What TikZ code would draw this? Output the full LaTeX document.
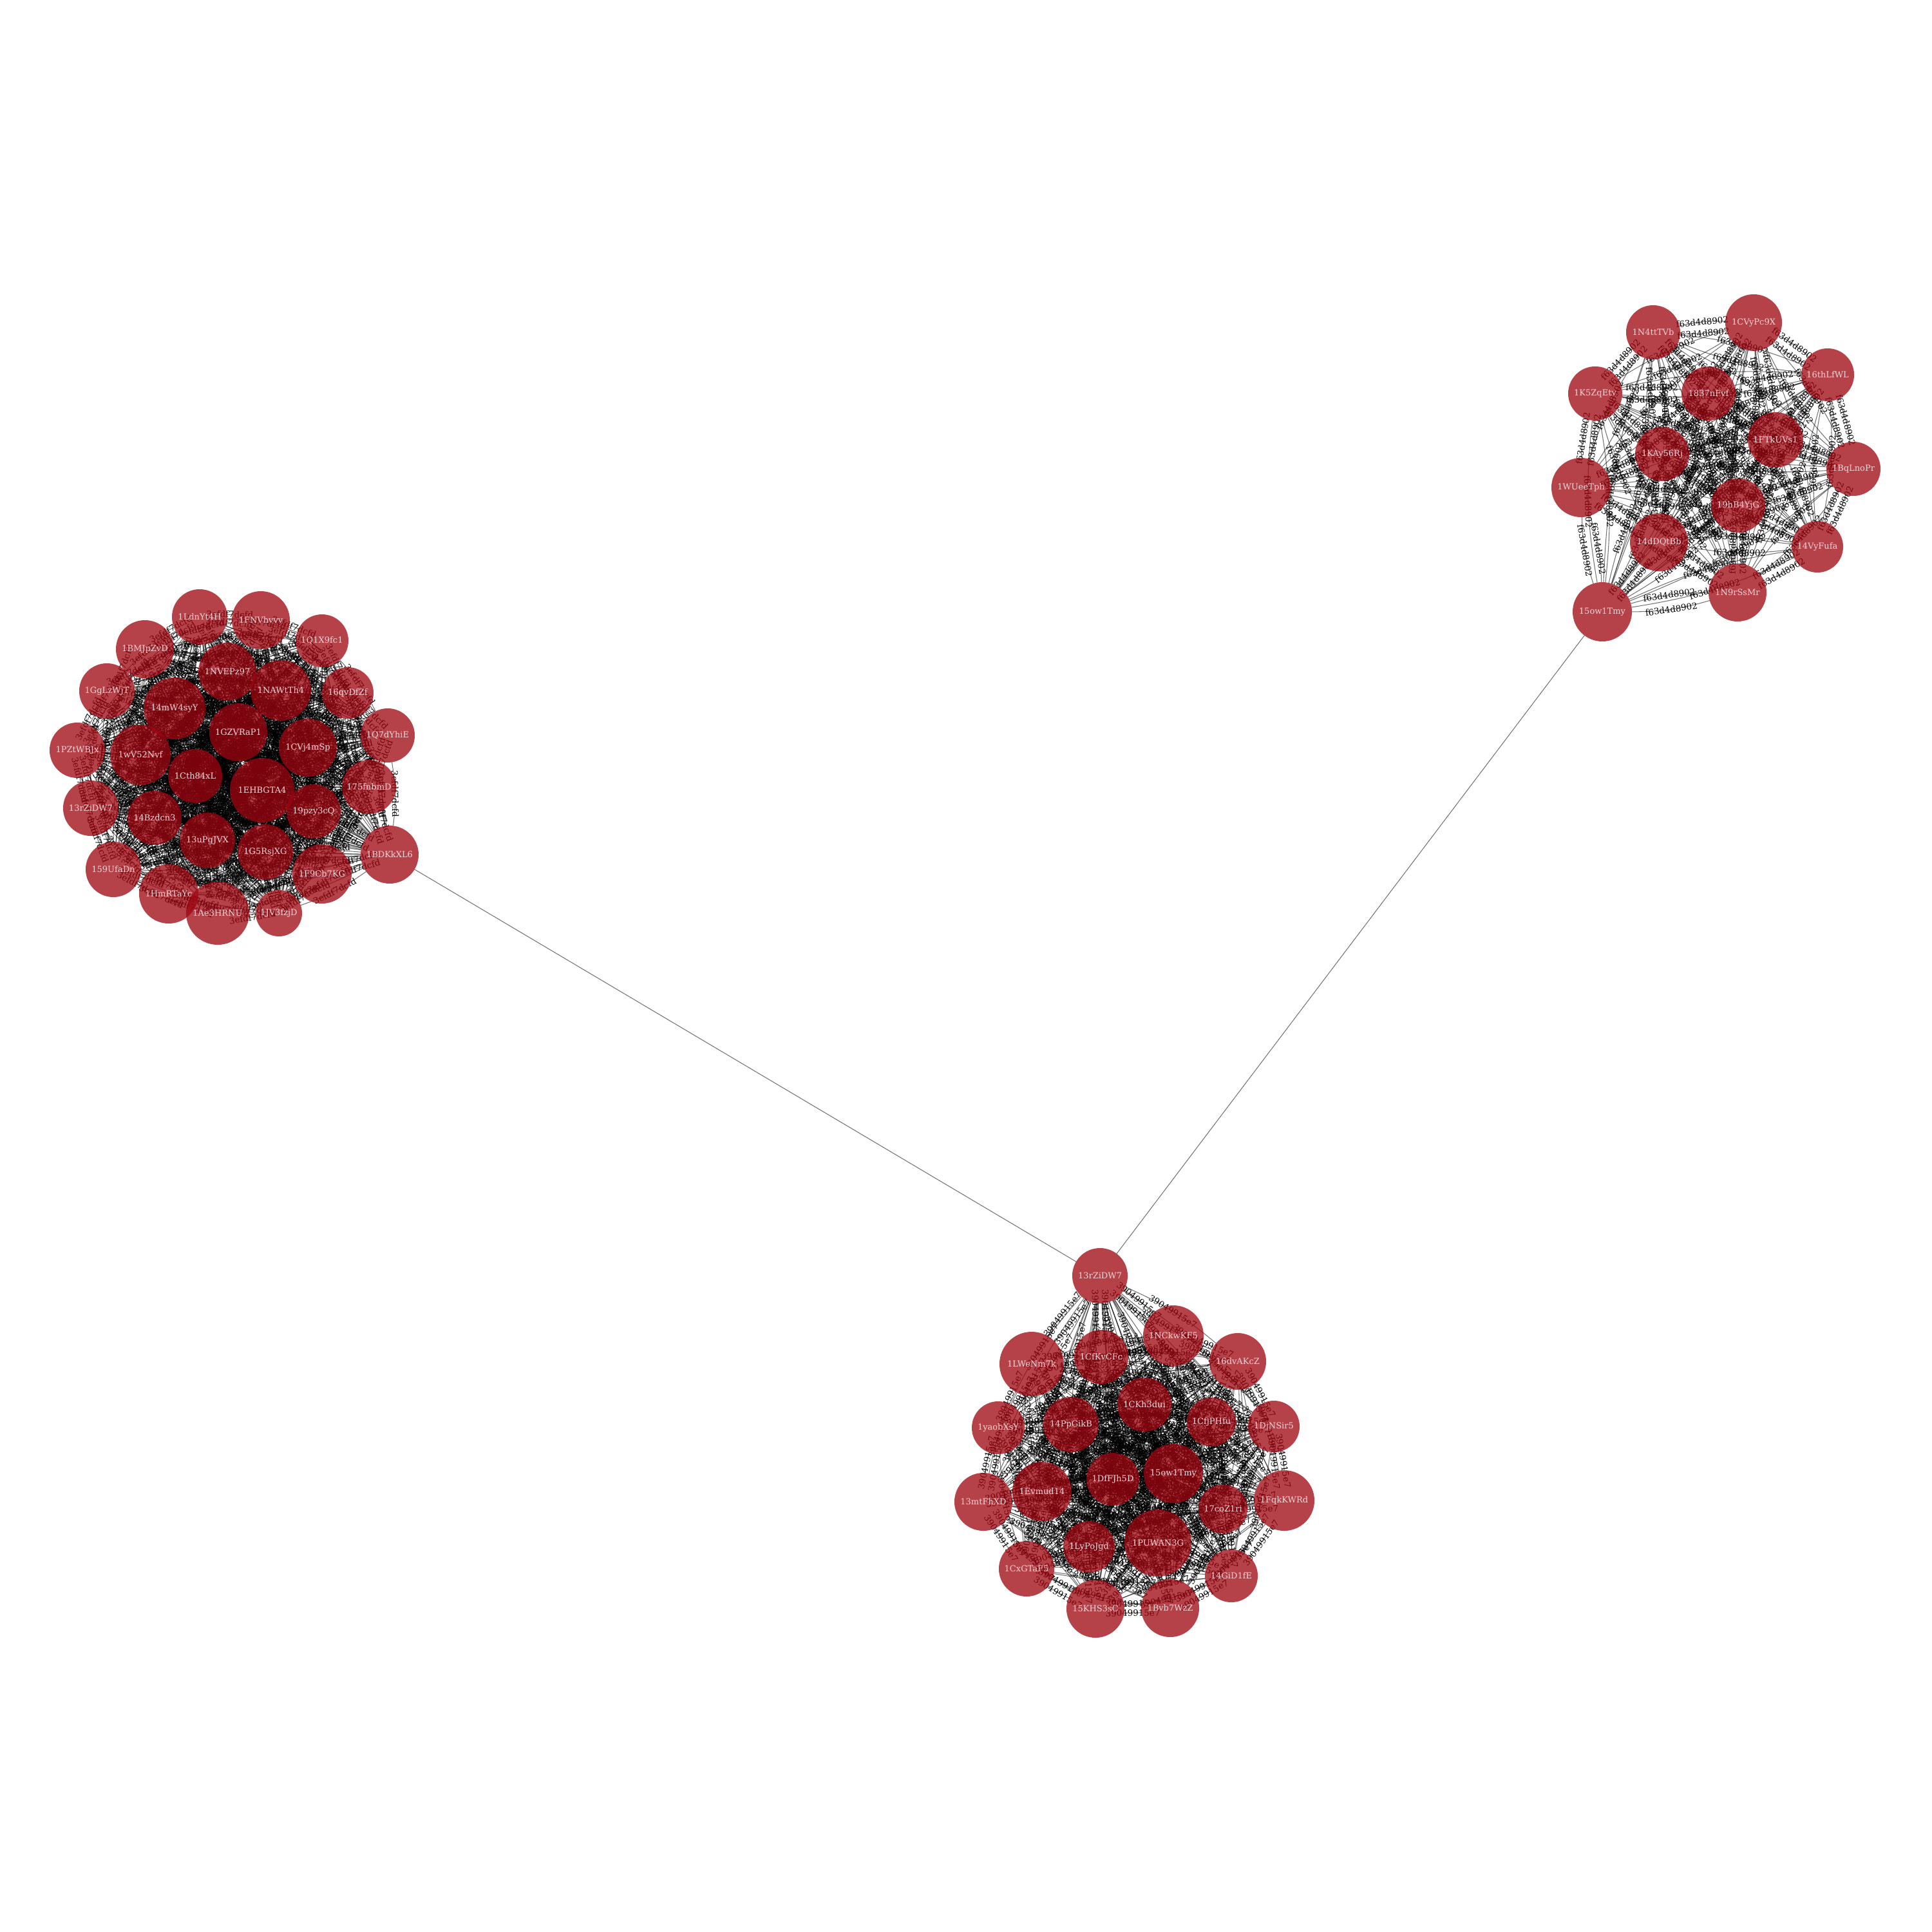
\documentclass[tikz,border=0pt]{standalone}
\usepackage{fontspec}
\setmainfont{DejaVu Serif}
\definecolor{nodered}{RGB}{158,5,16}
\definecolor{ntext}{RGB}{240,215,217}
\tikzset{
 invnode/.style={circle, inner sep=0pt, outer sep=0pt, draw=none},
 visnode/.style={circle, inner sep=0pt, outer sep=0pt, draw=none, fill=nodered, fill opacity=0.76, text opacity=1, text=ntext, font=\fontsize{3.7}{4}\selectfont},
 lnk/.style={draw=black, draw opacity=0.55, line width=0.3pt},
 elab/.style={sloped, font=\fontsize{3.8}{4}\selectfont, text=black, inner sep=0.5pt},
}
\def\Lnodes{L1/310/958/43/1LdnYt4H, L2/405/963/45/1FNVhvvv, L3/225/1008/45/1BMJpZvD, L4/500/995/41/1Q1X9fc1, L5/353/1043/45/1NVEPz97, L6/166/1073/43/1GgLzWjT, L7/436/1072/47/1NAWtTh4, L8/540/1076/40/16qvDfZf, L9/271/1100/48/14mW4syY, L10/370/1137/45/1GZVRaP1, L11/478/1161/45/1CVj4mSp, L12/602/1142/42/1Q7dYhiE, L13/120/1165/43/1PZtWBJx, L14/218/1172/47/1wV52Nvf, L15/303/1205/42/1Cth84xL, L16/407/1227/50/1EHBGTA4, L17/573/1222/42/175fnbmD, L18/141/1255/43/13rZiDW7, L19/487/1260/42/19pzy3cQ, L20/240/1270/42/14Bzdcn3, L21/322/1305/43/13uPgJVX, L22/412/1323/43/1G5RsjXG, L23/605/1327/45/1BDKkXL6, L24/500/1357/46/1F9Cb7KG, L25/176/1350/43/159UfaDn, L26/262/1388/46/1HmRTaYc, L27/338/1418/49/1Ae3HRNU, L28/433/1418/36/1JV3fzjD}
\def\Tnodes{T1/2567/516/42/1N4ttTVb, T2/2723/501/44/1CVyPc9X, T3/2838/582/41/16thLfWL, T4/2477/611/42/1K5ZqEtv, T5/2653/611/42/1837nFvf, T6/2757/683/43/1FTkUVs1, T7/2581/705/42/1KAy56Rj, T8/2878/728/42/1BqLnoPr, T9/2455/757/46/1WUeeTph, T10/2699/785/42/19hB4YjG, T11/2576/842/45/14dDQtBb, T12/2822/849/40/14VyFufa, T13/2698/920/45/1N9rSsMr, T14/2488/950/46/15ow1Tmy}
\def\Bnodes{B1/1708/1981/43/13rZiDW7, B2/1822/2074/47/1NCkwKF5, B3/1602/2118/50/1LWeNm7k, B4/1710/2107/42/1CfKvCFc, B5/1922/2114/44/16dvAKcZ, B6/1777/2181/42/1CKh3dui, B7/1550/2217/41/1yaobXsY, B8/1663/2212/43/14PpGikB, B9/1881/2208/38/1CfjPHfu, B10/1978/2215/40/1DjNSir5, B11/1728/2297/41/1DfFJh5D, B12/1822/2288/46/15ow1Tmy, B13/1618/2316/46/1Evmud14, B14/1527/2332/45/13mtFhXD, B15/1994/2330/47/1FqkKWRd, B16/1899/2343/38/17coZ1ri, B17/1798/2396/52/1PUWAN3G, B18/1691/2402/40/1LyPoJgd, B19/1594/2436/43/1CxGTaF5, B20/1912/2447/41/14GiD1fE, B21/1701/2498/45/15KHS3sC, B22/1817/2497/45/1Bvb7WzZ}
\begin{document}
\begin{tikzpicture}
\useasboundingbox (0,0) rectangle (30,-30);
% invisible anchor nodes
\foreach \n/\x/\y/\r/\t in \Lnodes {\node[invnode, minimum size={\r*0.02cm}] (\n) at ({\x/100},{-\y/100}) {};}
\foreach \n/\x/\y/\r/\t in \Tnodes {\node[invnode, minimum size={\r*0.02cm}] (\n) at ({\x/100},{-\y/100}) {};}
\foreach \n/\x/\y/\r/\t in \Bnodes {\node[invnode, minimum size={\r*0.02cm}] (\n) at ({\x/100},{-\y/100}) {};}
% left cluster edges
\foreach \i in {1,...,27}{
  \pgfmathtruncatemacro\s{\i+1}
  \foreach \j in {\s,...,28}{
    \draw[lnk] (L\i) to[bend left=8] node[elab]{3efdf7dcfd} (L\j);
    \draw[lnk] (L\j) to[bend left=8] node[elab]{3efdf7dcfd} (L\i);
  }
}
% top-right cluster edges
\foreach \i in {1,...,13}{
  \pgfmathtruncatemacro\s{\i+1}
  \foreach \j in {\s,...,14}{
    \draw[lnk] (T\i) to[bend left=8] node[elab]{f63d4d8902} (T\j);
    \draw[lnk] (T\j) to[bend left=8] node[elab]{f63d4d8902} (T\i);
  }
}
% bottom cluster edges
\foreach \i in {1,...,21}{
  \pgfmathtruncatemacro\s{\i+1}
  \foreach \j in {\s,...,22}{
    \draw[lnk] (B\i) to[bend left=8] node[elab]{39049915e7} (B\j);
    \draw[lnk] (B\j) to[bend left=8] node[elab]{39049915e7} (B\i);
  }
}
% inter-cluster links
\draw[lnk] (L23) -- (B1);
\draw[lnk] (T14) -- (B1);
% visible nodes
\foreach \n/\x/\y/\r/\t in \Lnodes {\node[visnode, minimum size={\r*0.02cm}] at (\n) {\t};}
\foreach \n/\x/\y/\r/\t in \Tnodes {\node[visnode, minimum size={\r*0.02cm}] at (\n) {\t};}
\foreach \n/\x/\y/\r/\t in \Bnodes {\node[visnode, minimum size={\r*0.02cm}] at (\n) {\t};}
\end{tikzpicture}
\end{document}
